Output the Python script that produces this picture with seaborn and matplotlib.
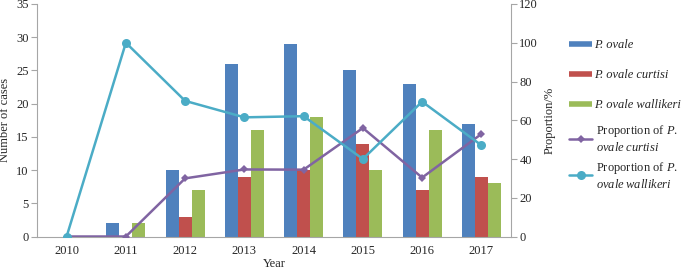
import pandas as pd
import numpy as np
import matplotlib.pyplot as plt
import seaborn as sns
from matplotlib.lines import Line2D

# Values
years = [2010, 2011, 2012, 2013, 2014, 2015, 2016, 2017]
ovale = [0, 2, 10, 26, 29, 25, 23, 17]
curtisi = [0, 0, 3, 9, 10, 14, 7, 9]
wallikeri = [0, 2, 7, 16, 18, 10, 16, 8]
prop_curtisi = [0, 0, 30.0, 34.6, 34.5, 56.0, 30.4, 52.9]
prop_wallikeri = [0, 100, 70.0, 61.5, 62.1, 40.0, 69.6, 47.1]

species = ['P. ovale', 'P. ovale curtisi', 'P. ovale wallikeri']
bar_colors = ['#4F81BD', '#C0504D', '#9BBB59']
purple = '#8064A2'
cyan = '#4BACC6'
axis_gray = '#A6A6A6'

# Long-form table for seaborn
bars = pd.DataFrame({
    'year': years * 3,
    'cases': ovale + curtisi + wallikeri,
    'species': [s for s in species for _ in years],
})

sns.set_style('white')
plt.rcParams['font.family'] = ['Liberation Serif', 'DejaVu Serif']
plt.rcParams['font.size'] = 9
plt.rcParams['mathtext.fontset'] = 'custom'
plt.rcParams['mathtext.rm'] = 'Liberation Serif'
plt.rcParams['mathtext.it'] = 'Liberation Serif:italic'

fig = plt.figure(figsize=(6.85, 2.69), dpi=100)
ax = fig.add_axes([37 / 685, 1 - 236.5 / 269, (511 - 37) / 685, (236.5 - 4) / 269])

sns.barplot(data=bars, x='year', y='cases', hue='species', hue_order=species,
            palette=bar_colors, native_scale=True, width=0.66, saturation=1,
            linewidth=0, legend=False, ax=ax)

ax2 = ax.twinx()
sns.lineplot(x=years, y=prop_curtisi, color=purple, marker='D', markersize=4,
             markeredgewidth=0, linewidth=1.8, ax=ax2)
sns.lineplot(x=years, y=prop_wallikeri, color=cyan, marker='o', markersize=6.5,
             markeredgewidth=0, linewidth=1.8, ax=ax2)

ax.set_xlim(2009.5, 2017.5)
ax.set_ylim(0, 35)
ax2.set_ylim(0, 120)
ax.set_yticks(np.arange(0, 36, 5))
ax2.set_yticks(np.arange(0, 121, 20))
ax.set_xticks(years)
ax.set_xticks(np.arange(2009.5, 2018, 1), minor=True)

for a in (ax, ax2):
    a.spines['top'].set_visible(False)
    for side in ['left', 'right', 'bottom']:
        a.spines[side].set_color(axis_gray)
        a.spines[side].set_linewidth(0.8)
ax.spines['right'].set_visible(False)
ax2.spines['left'].set_visible(False)
ax2.spines['bottom'].set_visible(False)

ax.tick_params(axis='x', which='major', length=0, pad=6, labelsize=9)
ax.tick_params(axis='x', which='minor', length=4, color=axis_gray, width=0.8)
ax.tick_params(axis='y', left=True, length=4, color=axis_gray, width=0.8, pad=2, labelsize=9)
ax2.tick_params(axis='y', right=True, length=4, color=axis_gray, width=0.8, pad=2, labelsize=9)

ax.set_xlabel('Year', fontsize=9, labelpad=1)
ax.set_ylabel('Number of cases', fontsize=9, labelpad=4)
ax2.set_ylabel('Proportion/%', fontsize=9, labelpad=4)
ax.grid(False)
ax2.grid(False)

# Legend for the bars (all italic)
bar_handles = [Line2D([], [], color=c, linewidth=4, solid_capstyle='butt') for c in bar_colors]
leg1 = fig.legend(bar_handles, species, loc='upper left', bbox_to_anchor=(564 / 685, 1 - 34 / 269),
                  frameon=False, handlelength=1.85, handletextpad=0.15, labelspacing=1.45,
                  borderaxespad=0, fontsize=9)
for t in leg1.get_texts():
    t.set_fontstyle('italic')

# Legend for the proportion lines (mixed roman / italic)
line_handles = [Line2D([], [], color=purple, marker='D', markersize=4, markeredgewidth=0, linewidth=1.8),
                Line2D([], [], color=cyan, marker='o', markersize=6.5, markeredgewidth=0, linewidth=1.8)]
line_labels = ['Proportion of $\\mathit{P.}$\n$\\mathit{ovale\\;curtisi}$',
               'Proportion of $\\mathit{P.}$\n$\\mathit{ovale\\;wallikeri}$']
fig.legend(line_handles, line_labels, loc='upper left', bbox_to_anchor=(564 / 685, 1 - 118 / 269),
           frameon=False, handlelength=1.85, handletextpad=0.3, labelspacing=0.45,
           borderaxespad=0, fontsize=9)

plt.savefig('out.png', dpi=100)
plt.close()
